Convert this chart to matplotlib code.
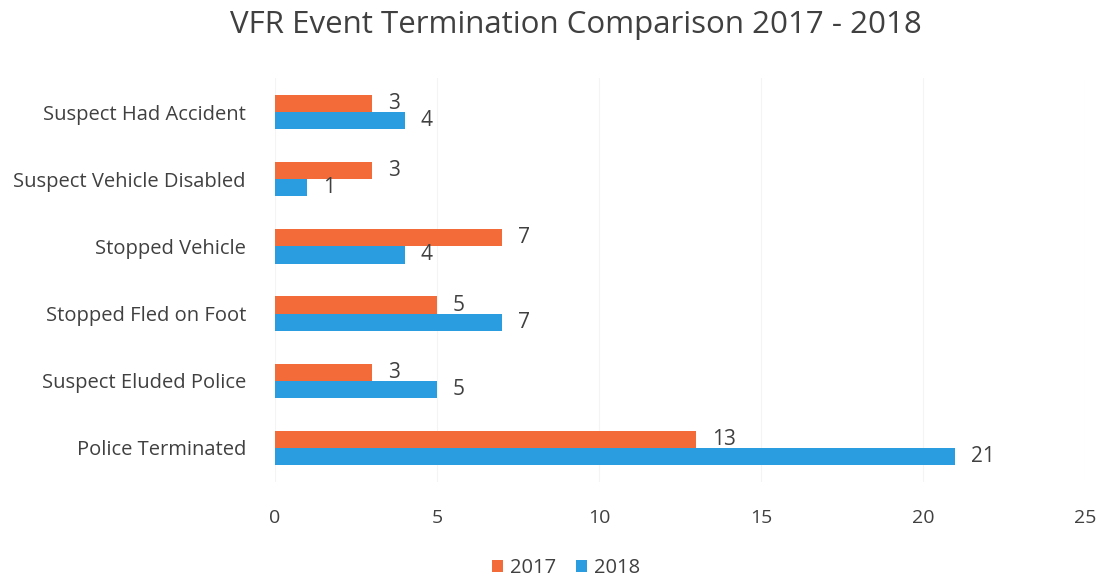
import numpy as np
import matplotlib.pyplot as plt

categories = ["Suspect Had Accident", "Suspect Vehicle Disabled", "Stopped Vehicle",
              "Stopped Fled on Foot", "Suspect Eluded Police", "Police Terminated"]
values_2017 = [3, 3, 7, 5, 3, 13]
values_2018 = [4, 1, 4, 7, 5, 21]
series_names = ["2017", "2018"]
x_ticks = [0, 5, 10, 15, 20, 25]

plt.rcParams['font.family'] = ['Open Sans', 'DejaVu Sans']
text_color = "#404040"
orange = "#F26B38"
blue = "#2A9DE0"

fig = plt.figure(figsize=(11.06, 5.77), dpi=100)
ax = fig.add_axes([0.2487, 0.1655, 0.7323, 0.6985])

y = np.arange(len(categories))
h = 0.255
b1 = ax.barh(y - h / 2, values_2017, height=h, color=orange, label=series_names[0])
b2 = ax.barh(y + h / 2, values_2018, height=h, color=blue, label=series_names[1])

for bars, vals in ((b1, values_2017), (b2, values_2018)):
    for rect, v in zip(bars, vals):
        ax.annotate(str(v), (rect.get_width(), rect.get_y() + rect.get_height() / 2),
                    xytext=(11.5, 0), textcoords="offset points", va="center", ha="left",
                    fontsize=15, color=text_color)

ax.set_yticks(y)
ax.set_yticklabels(categories, fontsize=14.5, color=text_color)
ax.set_ylim(len(categories) - 0.5, -0.5)
ax.set_xlim(0, 25)
ax.set_xticks(x_ticks)
ax.tick_params(axis="x", labelsize=14, labelcolor=text_color, length=0, pad=20)
ax.tick_params(axis="y", length=0, pad=21)
ax.grid(True, axis="x", color="#f4f4f4", linewidth=0.8)
ax.set_axisbelow(True)
for s in ax.spines.values():
    s.set_visible(False)

fig.suptitle("VFR Event Termination Comparison 2017 - 2018", fontsize=22.5,
             color=text_color, x=0.521, y=0.983)
fig.legend(loc="lower center", ncol=2, frameon=False, fontsize=14.5,
           bbox_to_anchor=(0.512, -0.033), handlelength=0.55, handleheight=0.55,
           handletextpad=0.35, columnspacing=1.0, labelcolor=text_color)

fig.savefig("out.png", dpi=100)
